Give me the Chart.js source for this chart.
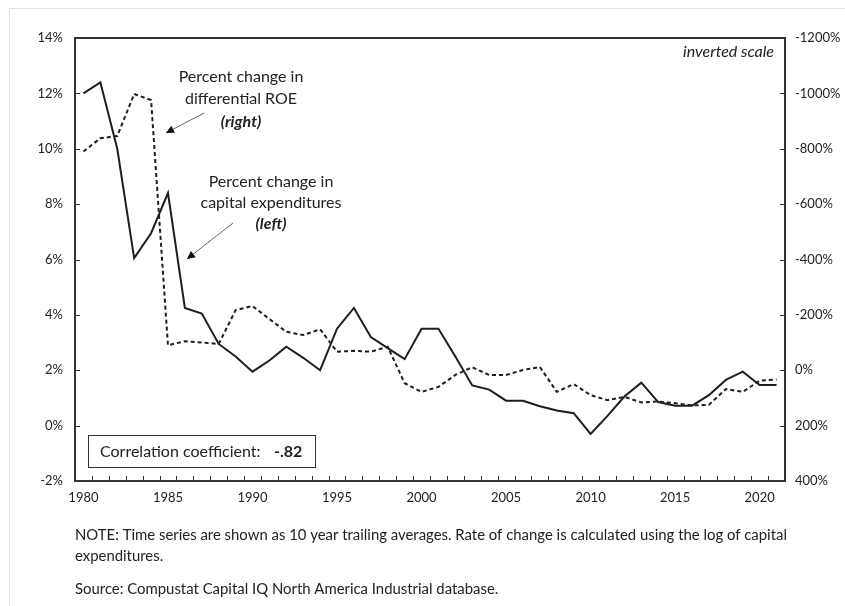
<!DOCTYPE html>
<html>
<head>
<meta charset="utf-8">
<script src="https://cdn.jsdelivr.net/npm/chart.js@4.4.0/dist/chart.umd.min.js"></script>
<style>
  body { margin: 0; background: #fff; }
  #wrap { width: 845px; height: 606px; }
</style>
</head>
<body>
<div id="wrap"><canvas id="myChart" width="845" height="606"></canvas></div>
<script>
// years 1980 - 2021
const years = [];
for (let y = 1980; y <= 2021; y++) years.push(String(y));

// percent change in capital expenditures (left axis, %)
const capex = [12.0, 12.4, 10.0, 6.05, 6.95, 8.4, 4.25, 4.05, 2.95, 2.5,
  1.95, 2.35, 2.85, 2.45, 2.0, 3.5, 4.25, 3.2, 2.8, 2.4,
  3.5, 3.5, 2.5, 1.45, 1.3, 0.9, 0.9, 0.7, 0.55, 0.45,
  -0.3, 0.35, 1.05, 1.55, 0.85, 0.72, 0.72, 1.1, 1.65, 1.95,
  1.47, 1.47];

// percent change in differential ROE (right axis, inverted, %)
const roe = [-790, -838, -846, -998, -976, -90, -105, -100, -95, -217,
  -232, -185, -139, -127, -148, -67, -70, -67, -85, 47,
  78, 60, 17, -11, 17, 17, -1, -12, 78, 50,
  90, 108, 96, 116, 113, 119, 127, 125, 68, 78,
  38, 33];

const leftTicks = [-2, 0, 2, 4, 6, 8, 10, 12, 14];
const rightTicks = [-1200, -1000, -800, -600, -400, -200, 0, 200, 400];

const FONT = "Lato, 'Open Sans', sans-serif";
const INK = '#1e1e1e';

const extras = {
  id: 'extras',
  afterDraw(chart) {
    const ctx = chart.ctx;
    const a = chart.chartArea;
    const x = chart.scales.x, yl = chart.scales.y, yr = chart.scales.y2;
    ctx.save();

    // faint outer border
    ctx.strokeStyle = '#e4e4e4';
    ctx.lineWidth = 1;
    ctx.beginPath();
    ctx.moveTo(9.5, 606); ctx.lineTo(9.5, 8.5); ctx.lineTo(845, 8.5);
    ctx.stroke();

    // plot frame
    ctx.strokeStyle = '#333';
    ctx.lineWidth = 2;
    ctx.strokeRect(a.left, a.top, a.right - a.left, a.bottom - a.top);

    // inward tick marks
    ctx.lineWidth = 1;
    ctx.strokeStyle = '#333';
    ctx.beginPath();
    const step = x.getPixelForValue(1) - x.getPixelForValue(0);
    for (let i = 0; i <= years.length; i++) {
      const px = Math.round(x.getPixelForValue(0) - step / 2 + i * step) + 0.5;
      ctx.moveTo(px, a.bottom); ctx.lineTo(px, a.bottom - 5);
    }
    leftTicks.forEach(v => {
      const py = Math.round(yl.getPixelForValue(v)) + 0.5;
      ctx.moveTo(a.left, py); ctx.lineTo(a.left + 5, py);
    });
    rightTicks.forEach(v => {
      const py = Math.round(yr.getPixelForValue(v)) + 0.5;
      ctx.moveTo(a.right, py); ctx.lineTo(a.right - 5, py);
    });
    ctx.stroke();

    ctx.fillStyle = '#222';
    ctx.textBaseline = 'middle';

    // inverted scale note
    ctx.font = 'italic 16px ' + FONT;
    ctx.textAlign = 'right';
    ctx.fillText('inverted scale', a.right - 11, 52);

    // annotations
    ctx.textAlign = 'center';
    ctx.font = '16px ' + FONT;
    ctx.fillText('Percent change in', 241, 77);
    ctx.fillText('differential ROE', 241, 99);
    ctx.font = 'italic bold 16px ' + FONT;
    ctx.fillText('(right)', 241, 122);
    ctx.font = '16px ' + FONT;
    ctx.fillText('Percent change in', 271, 182);
    ctx.fillText('capital expenditures', 271, 203);
    ctx.font = 'italic bold 16px ' + FONT;
    ctx.fillText('(left)', 271, 224);

    function arrow(x1, y1, x2, y2) {
      ctx.strokeStyle = '#666';
      ctx.lineWidth = 1;
      ctx.beginPath(); ctx.moveTo(x1, y1); ctx.lineTo(x2, y2); ctx.stroke();
      const ang = Math.atan2(y2 - y1, x2 - x1);
      const L = 8, W = 4;
      ctx.fillStyle = '#111';
      ctx.beginPath();
      ctx.moveTo(x2, y2);
      ctx.lineTo(x2 - L * Math.cos(ang) + W * Math.sin(ang), y2 - L * Math.sin(ang) - W * Math.cos(ang));
      ctx.lineTo(x2 - L * Math.cos(ang) - W * Math.sin(ang), y2 - L * Math.sin(ang) + W * Math.cos(ang));
      ctx.closePath(); ctx.fill();
    }
    arrow(204, 113, 166, 133);
    arrow(233, 223, 187, 259);

    // correlation box
    ctx.strokeStyle = '#333';
    ctx.lineWidth = 1;
    ctx.strokeRect(88.5, 435.5, 227, 32);
    ctx.fillStyle = '#222';
    ctx.textAlign = 'left';
    ctx.font = '16px ' + FONT;
    ctx.fillText('Correlation coefficient:', 100, 452);
    ctx.font = 'bold 16px ' + FONT;
    ctx.fillText('-.82', 274, 452);

    // notes
    ctx.font = '14.9px ' + FONT;
    ctx.fillText('NOTE: Time series are shown as 10 year trailing averages. Rate of change is calculated using the log of capital', 75, 535);
    ctx.fillText('expenditures.', 75, 556);
    ctx.fillText('Source: Compustat Capital IQ North America Industrial database.', 75, 589);

    ctx.restore();
  }
};

new Chart(document.getElementById('myChart'), {
  type: 'line',
  data: {
    labels: years,
    datasets: [
      {
        label: 'Percent change in capital expenditures (left)',
        data: capex,
        yAxisID: 'y',
        borderColor: INK,
        borderWidth: 2,
        pointRadius: 0,
        tension: 0,
        fill: false
      },
      {
        label: 'Percent change in differential ROE (right)',
        data: roe,
        yAxisID: 'y2',
        borderColor: INK,
        borderWidth: 2,
        borderDash: [4, 3],
        pointRadius: 0,
        tension: 0,
        fill: false
      }
    ]
  },
  options: {
    responsive: false,
    animation: false,
    layout: { padding: { top: 38, left: 0, right: 0, bottom: 0 } },
    plugins: { legend: { display: false }, tooltip: { enabled: false } },
    scales: {
      x: {
        type: 'category',
        offset: true,
        grid: { display: false, drawTicks: false },
        border: { display: false },
        afterFit(s) { s.height = 125; },
        ticks: {
          autoSkip: false,
          maxRotation: 0,
          padding: 9,
          color: '#222',
          font: { family: FONT, size: 13 },
          callback(val, i) { return i % 5 === 0 ? years[i] : ''; }
        }
      },
      y: {
        position: 'left',
        min: -2, max: 14,
        grid: { display: false, drawTicks: false },
        border: { display: false },
        afterFit(s) { s.width = 75; },
        afterBuildTicks(s) { s.ticks = leftTicks.map(v => ({ value: v })); },
        ticks: {
          padding: 12,
          color: '#222',
          font: { family: FONT, size: 13 },
          callback(v) { return v + '%'; }
        }
      },
      y2: {
        position: 'right',
        min: -1200, max: 400,
        reverse: true,
        grid: { display: false, drawTicks: false },
        border: { display: false },
        afterFit(s) { s.width = 60; },
        afterBuildTicks(s) { s.ticks = rightTicks.map(v => ({ value: v })); },
        ticks: {
          padding: 10,
          color: '#222',
          font: { family: FONT, size: 13 },
          callback(v) { return v + '%'; }
        }
      }
    }
  },
  plugins: [extras]
});
</script>
</body>
</html>
